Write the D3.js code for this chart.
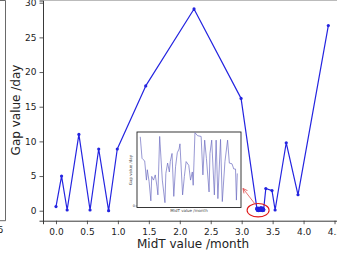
<!DOCTYPE html>
<html>
<head>
<meta charset="utf-8">
<script src="https://cdn.jsdelivr.net/npm/d3@7/dist/d3.min.js"></script>
<style>
  html, body { margin: 0; padding: 0; background: #fff; }
  svg { display: block; font-family: "DejaVu Sans", sans-serif; }
</style>
</head>
<body>
<svg id="chart" width="337" height="257"></svg>
<script>
// ---- data ----
const mainX = [0.0, 0.09, 0.18, 0.37, 0.55, 0.69, 0.85, 0.99, 1.45, 2.23, 2.99, 3.39, 3.49, 3.54, 3.72, 3.91, 4.40];
const mainY = [0.6, 5.0, 0.1, 11.0, 0.1, 8.9, 0.0, 8.9, 18.0, 29.1, 16.2, 3.2, 2.9, 0.1, 9.8, 2.3, 26.7];

// zoomed cluster (shown in inset)
const insetX = [3.245, 3.247, 3.248, 3.250, 3.252, 3.253, 3.255, 3.257, 3.258, 3.260,
                3.262, 3.264, 3.265, 3.267, 3.270, 3.273, 3.274, 3.276, 3.278, 3.279,
                3.281, 3.283, 3.285, 3.287, 3.289, 3.290, 3.293, 3.295, 3.297, 3.300,
                3.302, 3.304, 3.305, 3.307, 3.310, 3.314, 3.316, 3.318, 3.320, 3.323,
                3.324, 3.326, 3.329, 3.331, 3.333, 3.336, 3.338, 3.341, 3.344, 3.346,
                3.349, 3.351, 3.353, 3.354, 3.355];
const insetY = [0.374, 0.258, 0.252, 0.244, 0.140, 0.196, 0.132, 0.028, 0.160, 0.140,
                0.168, 0.104, 0.060, 0.376, 0.140, 0.018, 0.176, 0.232, 0.184, 0.240,
                0.284, 0.052, 0.212, 0.288, 0.308, 0.336, 0.060, 0.160, 0.240, 0.220,
                0.140, 0.184, 0.112, 0.396, 0.380, 0.376, 0.168, 0.356, 0.256, 0.076,
                0.284, 0.356, 0.060, 0.356, 0.040, 0.360, 0.024, 0.240, 0.356, 0.232,
                0.228, 0.200, 0.200, 0.032, 0.176];

const yTicks = [0, 5, 10, 15, 20, 25, 30];
const xTicks = [0.0, 0.5, 1.0, 1.5, 2.0, 2.5, 3.0, 3.5, 4.0, 4.5];

const xLabel = "MidT value /month";
const yLabel = "Gap value /day";

// ---- build ----
const svg = d3.select("#chart");
const blue = "#2424e0";

const x = d3.scaleLinear().domain([-0.21, 4.637]).range([43, 343]);
const y = d3.scaleLinear().domain([-1.44, 30.32]).range([220.7, 0.5]);

// neighbouring panel fragment on the left
svg.append("path").attr("d", "M0,0.5H5.5V220.7H0").attr("fill", "none")
  .attr("stroke", "#444").attr("stroke-width", 0.8);
svg.append("text").attr("x", 3.5).attr("y", 232.5).attr("text-anchor", "end")
  .attr("font-size", 9).attr("fill", "#222").text("4.5");

// spines
svg.append("line").attr("x1", 43).attr("x2", 343).attr("y1", 0.5).attr("y2", 0.5)
  .attr("stroke", "#aaa").attr("stroke-width", 0.8);

const gx = svg.append("g").attr("transform", "translate(0,220.7)")
  .call(d3.axisBottom(x).tickValues(xTicks).tickFormat(d3.format(".1f")).tickSize(3.5).tickPadding(2));
const gy = svg.append("g").attr("transform", "translate(43,0)")
  .call(d3.axisLeft(y).tickValues(yTicks).tickFormat(d3.format("d")).tickSize(3.5).tickPadding(3));
[gx, gy].forEach(g => {
  g.selectAll("text").attr("font-size", 9).attr("fill", "#222").attr("font-family", "DejaVu Sans, sans-serif");
  g.selectAll("line").attr("stroke", "#333").attr("stroke-width", 0.8);
  g.select(".domain").attr("stroke", "#222").attr("stroke-width", 0.9);
});
gx.selectAll("text").attr("dy", "0.95em");

// axis labels
svg.append("text").attr("x", 193).attr("y", 248).attr("text-anchor", "middle")
  .attr("font-size", 12).attr("fill", "#222").text(xLabel);
svg.append("text").attr("transform", "translate(19.5,110) rotate(-90)")
  .attr("text-anchor", "middle").attr("font-size", 12).attr("fill", "#222").text(yLabel);

// main series (merge cluster in x order)
const pts = mainX.map((v, i) => ({x: v, y: mainY[i]}))
  .concat(insetX.map((v, i) => ({x: v, y: insetY[i]})))
  .sort((a, b) => a.x - b.x);

const line = d3.line().x(d => x(d.x)).y(d => y(d.y));
svg.append("path").datum(pts).attr("d", line).attr("fill", "none")
  .attr("stroke", blue).attr("stroke-width", 1.2).attr("stroke-linejoin", "round");
svg.append("g").selectAll("circle").data(pts).join("circle")
  .attr("cx", d => x(d.x)).attr("cy", d => y(d.y)).attr("r", 1.6).attr("fill", blue);

// red ellipse + arrow
svg.append("defs").append("marker").attr("id", "ah").attr("viewBox", "0 0 10 10")
  .attr("refX", 9).attr("refY", 5).attr("markerWidth", 7).attr("markerHeight", 7)
  .attr("orient", "auto")
  .append("path").attr("d", "M1,1L9,5L1,9").attr("fill", "none").attr("stroke", "#e04040").attr("stroke-width", 1.3);
const cx = x(d3.mean(insetX)) - 2, cy = y(0) - 0.5;
svg.append("ellipse").attr("cx", cx).attr("cy", cy).attr("rx", 11).attr("ry", 6.7)
  .attr("fill", "none").attr("stroke", "#e01818").attr("stroke-width", 1.1);
svg.append("line").attr("x1", 255).attr("y1", 204).attr("x2", 243).attr("y2", 188.5)
  .attr("stroke", "#e05050").attr("stroke-width", 0.8).attr("marker-end", "url(#ah)");

// inset
const ix = d3.scaleLinear().domain([3.2413, 3.3592]).range([137, 241]);
const iy = d3.scaleLinear().domain([0, 0.4]).range([206, 132]);
const inset = svg.append("g");
inset.append("rect").attr("x", 137).attr("y", 132).attr("width", 104).attr("height", 75.5)
  .attr("fill", "#fff").attr("stroke", "#222").attr("stroke-width", 0.9);
inset.append("path").datum(insetX.map((v, i) => [v, insetY[i]]))
  .attr("d", d3.line().x(d => ix(d[0])).y(d => iy(d[1])))
  .attr("fill", "none").attr("stroke", "#6c6cc0").attr("stroke-width", 0.7);
inset.append("line").attr("x1", 135.5).attr("x2", 137).attr("y1", iy(0)).attr("y2", iy(0))
  .attr("stroke", "#333").attr("stroke-width", 0.5);
inset.append("text").attr("x", 135).attr("y", iy(0) + 1.3).attr("text-anchor", "end")
  .attr("font-size", 3.5).attr("fill", "#333").text("0");
inset.append("text").attr("x", 189).attr("y", 212).attr("text-anchor", "middle")
  .attr("font-size", 4).attr("fill", "#444").text(xLabel);
inset.append("text").attr("transform", "translate(131.5,170) rotate(-90)")
  .attr("text-anchor", "middle").attr("font-size", 4).attr("fill", "#444").text(yLabel);
</script>
</body>
</html>
